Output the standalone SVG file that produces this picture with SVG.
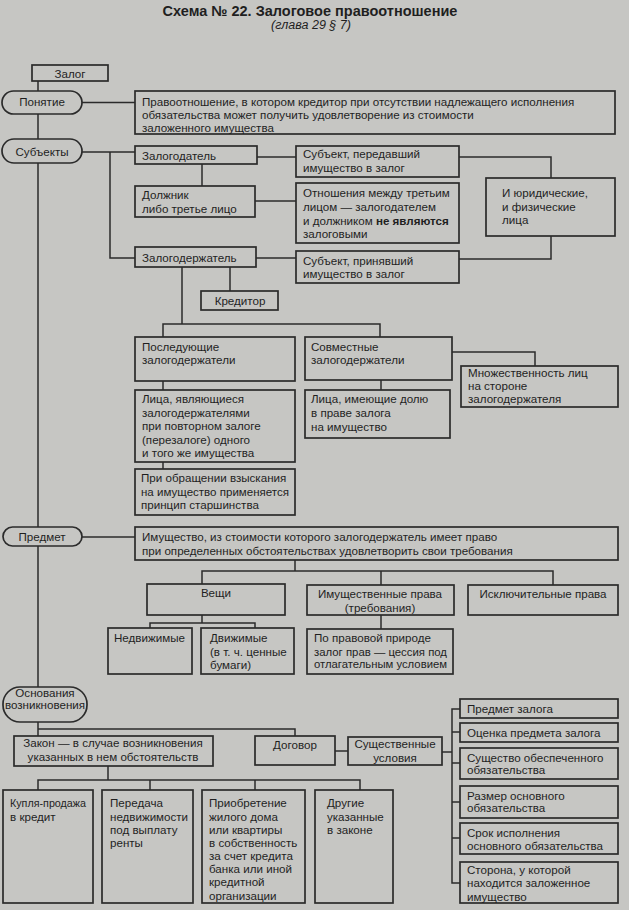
<svg xmlns="http://www.w3.org/2000/svg" width="629" height="910" viewBox="0 0 629 910">
<style>
.b{fill:none;stroke:#2b2b2b;stroke-width:1.7}
.t{font-family:"Liberation Sans",Arial,sans-serif;font-size:11.6px;fill:#1f1f1f}
.c{text-anchor:middle}
.ln{fill:none;stroke:#2b2b2b;stroke-width:1.5}
.ti{font-family:"Liberation Sans",Arial,sans-serif;font-size:14.5px;font-weight:bold;fill:#1f1f1f;text-anchor:middle}
.st{font-family:"Liberation Sans",Arial,sans-serif;font-size:12.5px;font-style:italic;fill:#1f1f1f;text-anchor:middle}
</style>
<rect x="0" y="0" width="629" height="910" fill="#c6c6c3"/>
<text class="ti" x="310" y="16">Схема № 22. Залоговое правоотношение</text>
<text class="st" x="311" y="29">(глава 29 § 7)</text>

<g id="connectors" class="ln">
<path d="M38 81V91M38 114V139M38 163V527M38 546V687M38 722V736"/>
<path d="M82 102.5H135"/>
<path d="M82 152H135M110 152V258H135"/>
<path d="M257 157H296"/>
<path d="M202 164V186"/>
<path d="M255 201H296"/>
<path d="M459 157H551V178"/>
<path d="M551 236V259H459"/>
<path d="M256 258H296"/>
<path d="M230 267V291"/>
<path d="M182 267V324M163 337V324H380V337"/>
<path d="M452 352H535V366"/>
<path d="M381 380V390"/>
<path d="M163 381V390"/>
<path d="M163 462V469"/>
<path d="M82 537H135"/>
<path d="M295 560V571M202 584V571H553V585M381 571V585"/>
<path d="M202 615V623M150 628V623H255V628"/>
<path d="M381 615V629"/>
<path d="M38 729H295V736"/>
<path d="M108 766V780M38 790V780H360V790M150 780V790M255 780V790"/>
<path d="M335 751H348"/>
<path d="M442 752H452"/>
<path d="M460 709H452V883H460M452 732H460M452 763H460M452 802H460M452 838H460"/>
</g>

<g id="zalog"><rect class="b" x="32" y="65" width="76" height="16"/><text class="t c" x="70" y="77.5">Залог</text></g>
<g id="ponyatie"><rect class="b" x="2" y="91" width="80" height="23" rx="11.5"/><text class="t c" x="42" y="106">Понятие</text></g>
<g id="ponyatie-def"><rect class="b" x="135" y="91" width="480" height="43"/>
<text class="t" x="142" y="106">Правоотношение, в котором кредитор при отсутствии надлежащего исполнения</text>
<text class="t" x="142" y="119">обязательства может получить удовлетворение из стоимости</text>
<text class="t" x="142" y="132">заложенного имущества</text></g>

<g id="subekty"><rect class="b" x="2" y="139" width="80" height="24" rx="12"/><text class="t c" x="42" y="155.5">Субъекты</text></g>
<g id="zalogodatel"><rect class="b" x="135" y="146" width="122" height="18"/><text class="t" x="142" y="159.5">Залогодатель</text></g>
<g id="subj-peredavshiy"><rect class="b" x="296" y="146" width="163" height="31"/>
<text class="t" x="303" y="158">Субъект, передавший</text><text class="t" x="303" y="172">имущество в залог</text></g>
<g id="dolzhnik"><rect class="b" x="135" y="186" width="120" height="31"/>
<text class="t" x="142" y="199">Должник</text><text class="t" x="142" y="213">либо третье лицо</text></g>
<g id="otnosheniya"><rect class="b" x="296" y="183" width="163" height="60"/>
<text class="t" x="303" y="197">Отношения между третьим</text>
<text class="t" x="303" y="211">лицом — залогодателем</text>
<text class="t" x="303" y="225">и должником <tspan font-weight="bold">не являются</tspan></text>
<text class="t" x="303" y="238">залоговыми</text></g>
<g id="yurid"><rect class="b" x="486" y="178" width="129" height="58"/>
<text class="t" x="502" y="197">И юридические,</text><text class="t" x="502" y="211">и физические</text><text class="t" x="502" y="224">лица</text></g>
<g id="zalogoderzhatel"><rect class="b" x="135" y="247" width="121" height="20"/><text class="t" x="142" y="261.5">Залогодержатель</text></g>
<g id="subj-prinyavshiy"><rect class="b" x="296" y="251" width="163" height="32"/>
<text class="t" x="303" y="265">Субъект, принявший</text><text class="t" x="303" y="278">имущество в залог</text></g>
<g id="kreditor"><rect class="b" x="201" y="291" width="77" height="19"/><text class="t c" x="240" y="304.5">Кредитор</text></g>

<g id="posleduyushchie"><rect class="b" x="135" y="337" width="160" height="44"/>
<text class="t" x="142" y="351">Последующие</text><text class="t" x="142" y="364">залогодержатели</text></g>
<g id="sovmestnye"><rect class="b" x="305" y="337" width="147" height="43"/>
<text class="t" x="311" y="351">Совместные</text><text class="t" x="311" y="364">залогодержатели</text></g>
<g id="mnozhestvennost"><rect class="b" x="461" y="366" width="157" height="41"/>
<text class="t" x="468" y="377">Множественность лиц</text><text class="t" x="468" y="390">на стороне</text><text class="t" x="468" y="403">залогодержателя</text></g>
<g id="lica-yavl"><rect class="b" x="135" y="390" width="160" height="72"/>
<text class="t" x="142" y="403">Лица, являющиеся</text>
<text class="t" x="142" y="416.5">залогодержателями</text>
<text class="t" x="142" y="430">при повторном залоге</text>
<text class="t" x="142" y="443.5">(перезалоге) одного</text>
<text class="t" x="142" y="457">и того же имущества</text></g>
<g id="lica-imeyushchie"><rect class="b" x="305" y="390" width="145" height="48"/>
<text class="t" x="311" y="403">Лица, имеющие долю</text><text class="t" x="311" y="417">в праве залога</text><text class="t" x="311" y="431">на имущество</text></g>
<g id="pri-obrashchenii"><rect class="b" x="135" y="469" width="160" height="46"/>
<text class="t" x="141" y="482">При обращении взыскания</text><text class="t" x="141" y="496" textLength="148" lengthAdjust="spacingAndGlyphs">на имущество применяется</text><text class="t" x="141" y="509">принцип старшинства</text></g>

<g id="predmet"><rect class="b" x="3" y="527" width="79" height="19" rx="9.5"/><text class="t c" x="42" y="541">Предмет</text></g>
<g id="predmet-def"><rect class="b" x="135" y="527" width="483" height="33"/>
<text class="t" x="142" y="541">Имущество, из стоимости которого залогодержатель имеет право</text>
<text class="t" x="142" y="555">при определенных обстоятельствах удовлетворить свои требования</text></g>
<g id="veshchi"><rect class="b" x="147" y="584" width="138" height="31"/><text class="t c" x="216" y="597">Вещи</text></g>
<g id="imushch-prava"><rect class="b" x="307" y="585" width="147" height="30"/>
<text class="t c" x="380" y="598">Имущественные права</text><text class="t c" x="380" y="612">(требования)</text></g>
<g id="isklyuch-prava"><rect class="b" x="468" y="585" width="150" height="30"/><text class="t c" x="543" y="598">Исключительные права</text></g>
<g id="nedvizhimye"><rect class="b" x="108" y="628" width="84" height="46"/><text class="t" x="114" y="642">Недвижимые</text></g>
<g id="dvizhimye"><rect class="b" x="201" y="628" width="93" height="46"/>
<text class="t" x="210" y="642">Движимые</text><text class="t" x="210" y="656">(в т. ч. ценные</text><text class="t" x="210" y="669">бумаги)</text></g>
<g id="po-pravovoy"><rect class="b" x="307" y="629" width="146" height="45"/>
<text class="t" x="314" y="642">По правовой природе</text><text class="t" x="314" y="656" textLength="133" lengthAdjust="spacingAndGlyphs">залог прав — цессия под</text><text class="t" x="314" y="668" textLength="133" lengthAdjust="spacingAndGlyphs">отлагательным условием</text></g>

<g id="osnovaniya"><rect class="b" x="3" y="687" width="84" height="35" rx="17"/>
<text class="t c" x="45" y="697">Основания</text><text class="t c" x="45" y="709" font-size="10.5">возникновения</text></g>
<g id="zakon"><rect class="b" x="14" y="736" width="199" height="30"/>
<text class="t c" x="113" y="747">Закон — в случае возникновения</text><text class="t c" x="113" y="761">указанных в нем обстоятельств</text></g>
<g id="dogovor"><rect class="b" x="255" y="736" width="80" height="29"/><text class="t c" x="295" y="749">Договор</text></g>
<g id="sushch-usloviya"><rect class="b" x="348" y="737" width="94" height="28"/>
<text class="t c" x="395" y="748">Существенные</text><text class="t c" x="395" y="762">условия</text></g>

<g id="predmet-zaloga"><rect class="b" x="460" y="699" width="158" height="19"/><text class="t" x="467" y="713">Предмет залога</text></g>
<g id="ocenka"><rect class="b" x="460" y="723" width="158" height="19"/><text class="t" x="467" y="737">Оценка предмета залога</text></g>
<g id="sushchestvo"><rect class="b" x="460" y="748" width="158" height="31"/>
<text class="t" x="467" y="762">Существо обеспеченного</text><text class="t" x="467" y="774">обязательства</text></g>
<g id="razmer"><rect class="b" x="460" y="786" width="158" height="32"/>
<text class="t" x="467" y="800">Размер основного</text><text class="t" x="467" y="812">обязательства</text></g>
<g id="srok"><rect class="b" x="460" y="823" width="158" height="31"/>
<text class="t" x="467" y="837">Срок исполнения</text><text class="t" x="467" y="850">основного обязательства</text></g>
<g id="storona"><rect class="b" x="460" y="862" width="158" height="41"/>
<text class="t" x="467" y="874">Сторона, у которой</text><text class="t" x="467" y="887">находится заложенное</text><text class="t" x="467" y="901">имущество</text></g>

<g id="kuplya"><rect class="b" x="3" y="790" width="90" height="113"/>
<text class="t" x="10" y="807" textLength="76" lengthAdjust="spacingAndGlyphs">Купля-продажа</text><text class="t" x="10" y="821">в кредит</text></g>
<g id="peredacha"><rect class="b" x="102" y="790" width="91" height="113"/>
<text class="t" x="110" y="807">Передача</text><text class="t" x="110" y="821" textLength="78" lengthAdjust="spacingAndGlyphs">недвижимости</text><text class="t" x="110" y="834">под выплату</text><text class="t" x="110" y="847">ренты</text></g>
<g id="priobretenie"><rect class="b" x="202" y="790" width="103" height="113"/>
<text class="t" x="209" y="807">Приобретение</text><text class="t" x="209" y="821">жилого дома</text><text class="t" x="209" y="834">или квартиры</text><text class="t" x="209" y="847">в собственность</text><text class="t" x="209" y="860">за счет кредита</text><text class="t" x="209" y="873">банка или иной</text><text class="t" x="209" y="886">кредитной</text><text class="t" x="209" y="900">организации</text></g>
<g id="drugie"><rect class="b" x="315" y="790" width="78" height="113"/>
<text class="t" x="327" y="807">Другие</text><text class="t" x="327" y="821">указанные</text><text class="t" x="327" y="834">в законе</text></g>
</svg>
